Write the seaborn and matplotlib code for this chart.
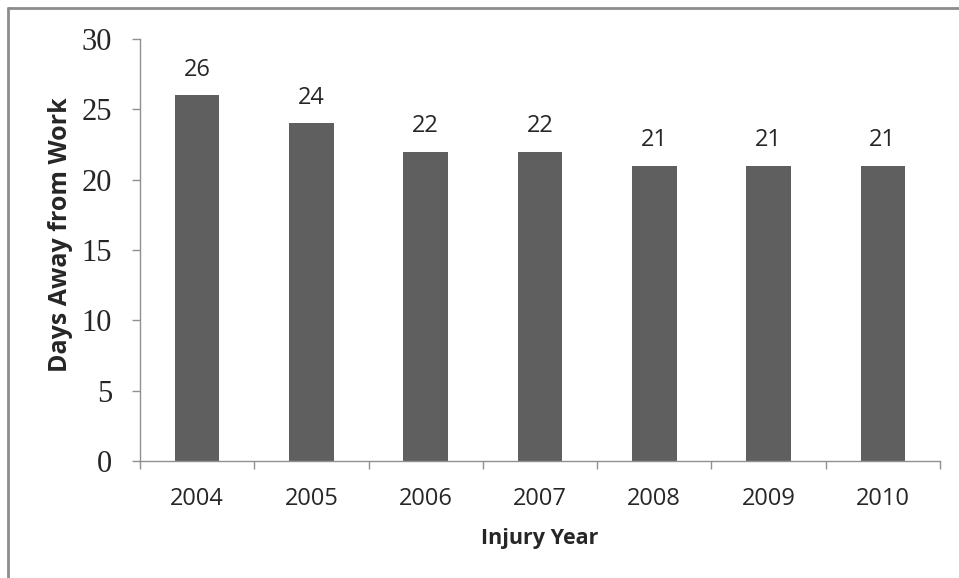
import matplotlib
matplotlib.use("Agg")
import matplotlib.pyplot as plt
import seaborn as sns
import pandas as pd
from matplotlib.lines import Line2D

years = ["2004", "2005", "2006", "2007", "2008", "2009", "2010"]
days = [26, 24, 22, 22, 21, 21, 21]
y_ticks = [0, 5, 10, 15, 20, 25, 30]

sns.set_style("white")
df = pd.DataFrame({"year": years, "days": days})

W, H = 959, 578
fig = plt.figure(figsize=(W / 100, H / 100), dpi=100)
ax = fig.add_axes([140 / W, (H - 461) / H, (940 - 140) / W, (461 - 39) / H])

sns.barplot(data=df, x="year", y="days", color="#5f5f5f", width=0.39,
            saturation=1, ax=ax, edgecolor="none")

ax.set_xlim(-0.5, len(years) - 0.5)
ax.set_ylim(0, 30)
ax.set_yticks(y_ticks)
ax.set_yticklabels([str(t) for t in y_ticks], family="Liberation Serif", fontsize=22)
ax.set_xticks(range(len(years)))
ax.set_xticklabels(years, family="Open Sans", fontsize=17)
ax.tick_params(axis="x", length=0, pad=19)
ax.tick_params(axis="y", length=5.8, width=1, color="#909090", pad=14.4, left=True)

# category boundary ticks on x axis
ax.set_xticks([i - 0.5 for i in range(len(years) + 1)], minor=True)
ax.tick_params(axis="x", which="minor", length=5.8, width=1, color="#909090", bottom=True)

for s in ["top", "right"]:
    ax.spines[s].set_visible(False)
for s in ["left", "bottom"]:
    ax.spines[s].set_color("#909090")
    ax.spines[s].set_linewidth(1)

for i, v in enumerate(days):
    ax.text(i, v + 0.95, str(v), ha="center", va="bottom", family="Open Sans", fontsize=17)

ax.set_xlabel("Injury Year", family="Open Sans", fontsize=15.5, fontweight="bold", labelpad=12)
ax.set_ylabel("Days Away from Work", family="Open Sans", fontsize=18, fontweight="bold", labelpad=6)
ax.yaxis.label.set_y(0.536)

# figure border (left and top visible)
fig.add_artist(Line2D([7.5 / W, 7.5 / W], [0, 1 - 7.5 / H], transform=fig.transFigure,
                      color="#8c8c8c", lw=2))
fig.add_artist(Line2D([7.5 / W, 1], [1 - 7.5 / H, 1 - 7.5 / H], transform=fig.transFigure,
                      color="#8c8c8c", lw=2))

fig.savefig("out.png", dpi=100)
